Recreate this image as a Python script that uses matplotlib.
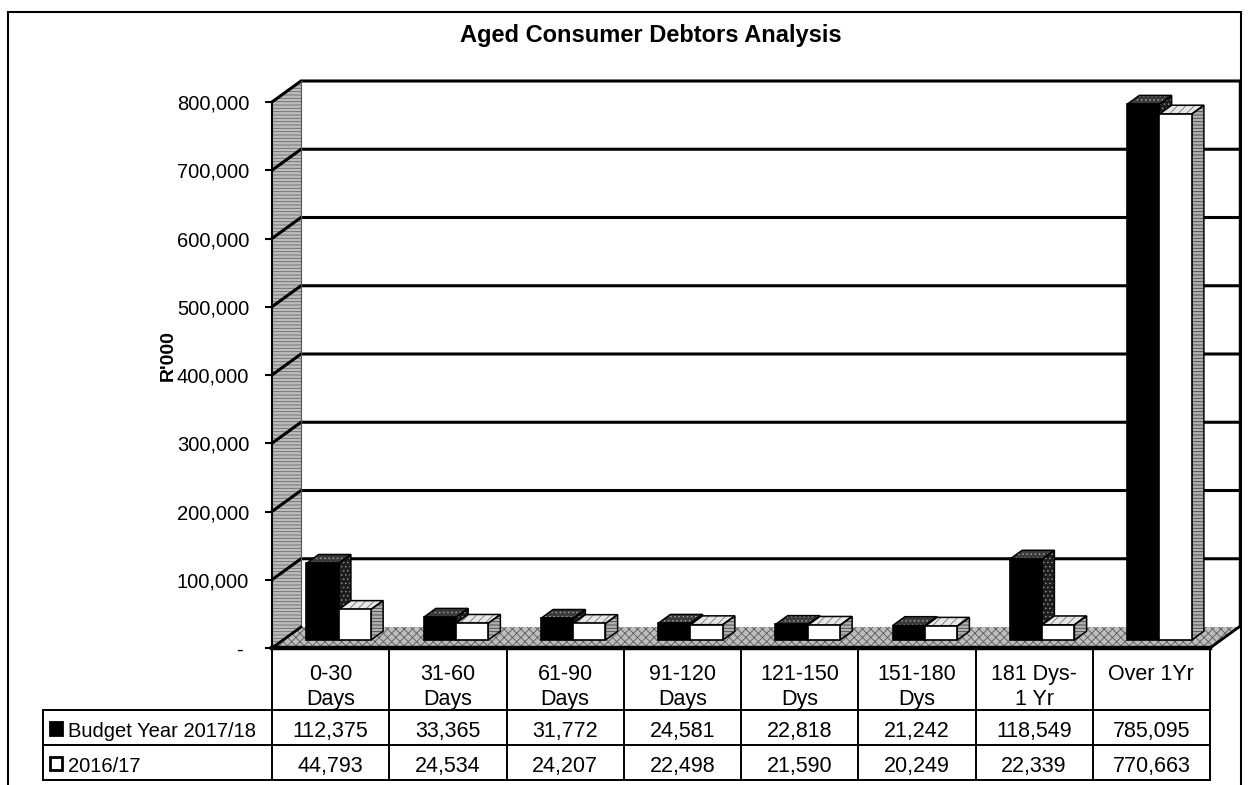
import matplotlib
matplotlib.use("Agg")
import matplotlib.pyplot as plt
from matplotlib.patches import Polygon, Rectangle
from matplotlib.lines import Line2D
import matplotlib.transforms as mtransforms

# ---------------- data ----------------
categories = ["0-30\nDays", "31-60\nDays", "61-90\nDays", "91-120\nDays",
              "121-150\nDys", "151-180\nDys", "181 Dys-\n1 Yr", "Over 1Yr"]
series_names = ["Budget Year 2017/18", "2016/17"]
budget_2017_18 = [112375, 33365, 31772, 24581, 22818, 21242, 118549, 785095]
actual_2016_17 = [44793, 24534, 24207, 22498, 21590, 20249, 22339, 770663]
y_ticks = [0, 100000, 200000, 300000, 400000, 500000, 600000, 700000, 800000]
title_text = "Aged Consumer Debtors Analysis"
y_label = "R'000"

FONT = ["Liberation Sans", "DejaVu Sans"]
plt.rcParams["font.family"] = FONT
plt.rcParams["hatch.linewidth"] = 0.6

W, H = 1248, 785
fig = plt.figure(figsize=(W / 100, H / 100), dpi=100)

def fy(px):
    return 1 - px / H

def fx(px):
    return px / W

# plot (front plane) area in pixels
X0, X1, Y0, Y1 = 272, 1210, 648, 102
ax = fig.add_axes([fx(X0), fy(Y0), (X1 - X0) / W, (Y0 - Y1) / H])
n = len(categories)
ax.set_xlim(-0.5, n - 0.5)
ax.set_ylim(y_ticks[0], y_ticks[-1])

ppx = (X1 - X0) / n
ppy = (Y0 - Y1) / (y_ticks[-1] - y_ticks[0])
DX, DY = 29, 21  # depth in pixels
ddx, ddy = DX / ppx, DY / ppy

def P(x, y, f):
    return (x + f * ddx, y + f * ddy)

xl, xr = -0.5, n - 0.5
ymax = y_ticks[-1]

# ---- walls / floor ----
wall = [P(xl, 0, 0), P(xl, ymax, 0), P(xl, ymax, 1), P(xl, 0, 1)]
ax.add_patch(Polygon(wall, closed=True, facecolor="#bcbcbc", edgecolor="#6a6a6a",
                     hatch="-----", lw=0, clip_on=False, zorder=1))
floor = [P(xl, 0, 0), P(xr, 0, 0), P(xr, 0, 1), P(xl, 0, 1)]
ax.add_patch(Polygon(floor, closed=True, facecolor="#bdbdbd", edgecolor="#5a5a5a",
                     hatch="xxxx", lw=0, clip_on=False, zorder=1))

# gridlines (left wall + back wall)
for v in y_ticks[1:]:
    a, b, c = P(xl, v, 0), P(xl, v, 1), P(xr, v, 1)
    ax.add_line(Line2D([a[0], b[0], c[0]], [a[1], b[1], c[1]], color="black",
                       lw=2.2, clip_on=False, zorder=2, solid_joinstyle="miter"))
# back-wall right edge, left-wall back edge
a, b = P(xr, 0, 1), P(xr, ymax, 1)
ax.add_line(Line2D([a[0], b[0]], [a[1], b[1]], color="black", lw=1.0, clip_on=False, zorder=2))
a, b = P(xl, 0, 1), P(xl, ymax, 1)
ax.add_line(Line2D([a[0], b[0]], [a[1], b[1]], color="#555555", lw=0.8, clip_on=False, zorder=2))
# floor edges
a, b = P(xr, 0, 0), P(xr, 0, 1)
ax.add_line(Line2D([a[0], b[0]], [a[1], b[1]], color="black", lw=2.0, clip_on=False, zorder=2))
a, b = P(xl, 0, 0), P(xl, 0, 1)
ax.add_line(Line2D([a[0], b[0]], [a[1], b[1]], color="black", lw=2.0, clip_on=False, zorder=2))
ax.add_line(Line2D([xl, xr], [0, 0], color="black", lw=3.2, clip_on=False, zorder=8))

# ---- bars ----
F0, F1 = 0.38, 0.80
bw = 0.275
offsets = [-0.30, -0.025]
styles = [
    dict(front="#000000", side="#1c1c1c", side_h="#8a8a8a", top="#3a3a3a", top_h="#9a9a9a"),
    dict(front="#ffffff", side="#b0b0b0", side_h="#444444", top="#e6e6e6", top_h="#777777"),
]
series = [budget_2017_18, actual_2016_17]
z = 3
for i in range(n):
    for s, vals in enumerate(series):
        v = vals[i]
        st = styles[s]
        x0 = i + offsets[s]
        x1 = x0 + bw
        side = [P(x1, 0, F0), P(x1, v, F0), P(x1, v, F1), P(x1, 0, F1)]
        top = [P(x0, v, F0), P(x1, v, F0), P(x1, v, F1), P(x0, v, F1)]
        for poly, fc, hc, hatch in [(side, st["side"], st["side_h"], "-----" if s else "...."),
                                    (top, st["top"], st["top_h"], "////" if s else "....")]:
            ax.add_patch(Polygon(poly, closed=True, facecolor=fc, edgecolor=hc, hatch=hatch,
                                 lw=0, clip_on=False, zorder=z))
            ax.add_patch(Polygon(poly, closed=True, facecolor="none", edgecolor="black",
                                 lw=1.1, clip_on=False, zorder=z + 0.1))
        fx0, fy0 = P(x0, 0, F0)
        ax.add_patch(Rectangle((fx0, fy0), bw, v, facecolor=st["front"], edgecolor="black",
                               lw=1.2, clip_on=False, zorder=z + 0.2))
        z += 1

# ---- axes styling ----
for sp in ["top", "right", "bottom"]:
    ax.spines[sp].set_visible(False)
ax.spines["left"].set_linewidth(1.5)
ax.spines["left"].set_zorder(9)
ax.patch.set_visible(False)
ax.set_xticks([])
ax.set_yticks(y_ticks)
ax.set_yticklabels(["- " if v == 0 else f"{v:,.0f}" for v in y_ticks], fontsize=14.5)
ax.tick_params(axis="y", length=5, width=1.5, pad=11.5, direction="out")

fig.text(fx(168), fy(356), y_label, rotation=90, ha="center", va="center",
         fontsize=14, fontweight="bold")
fig.text(fx(651), fy(42), title_text, ha="center", va="baseline",
         fontsize=17, fontweight="bold")

# ---- data table ----
bt = mtransforms.blended_transform_factory(ax.transData, fig.transFigure)
row_lines = [710, 745, 780]
lab_left = xl - (X0 - 43) / ppx
for i in range(n + 1):
    xb = xl + i
    fig.add_artist(Line2D([xb, xb], [fy(648), fy(780)], transform=bt, color="black", lw=1.4))
fig.add_artist(Line2D([lab_left, lab_left], [fy(710), fy(780)], transform=bt, color="black", lw=1.4))
for yl in row_lines:
    fig.add_artist(Line2D([lab_left, xr], [fy(yl), fy(yl)], transform=bt, color="black", lw=1.4))

TFS = 15.5
for i, lab in enumerate(categories):
    for k, line in enumerate(lab.split("\n")):
        fig.text(i, fy(680 + 25 * k), line, transform=bt, ha="center", va="baseline", fontsize=TFS)
row_base = [737, 772]
for s, vals in enumerate(series):
    for i, v in enumerate(vals):
        fig.text(i, fy(row_base[s]), f"{v:,.0f}", transform=bt, ha="center",
                 va="baseline", fontsize=TFS)
    # legend key
    fig.add_artist(Rectangle((fx(50), fy(row_base[s] - 2)), 12 / W, 13 / H,
                             transform=fig.transFigure,
                             facecolor=styles[s]["front"], edgecolor="black", lw=2.0))
    fig.text(fx(68), fy(row_base[s]), series_names[s], ha="left", va="baseline", fontsize=14.5)

# outer border
fig.add_artist(Rectangle((fx(8), -0.05), (1241 - 8) / W, fy(12) + 0.05,
                         transform=fig.transFigure, facecolor="none", edgecolor="black", lw=1.5))

fig.savefig("out.png", dpi=100)
